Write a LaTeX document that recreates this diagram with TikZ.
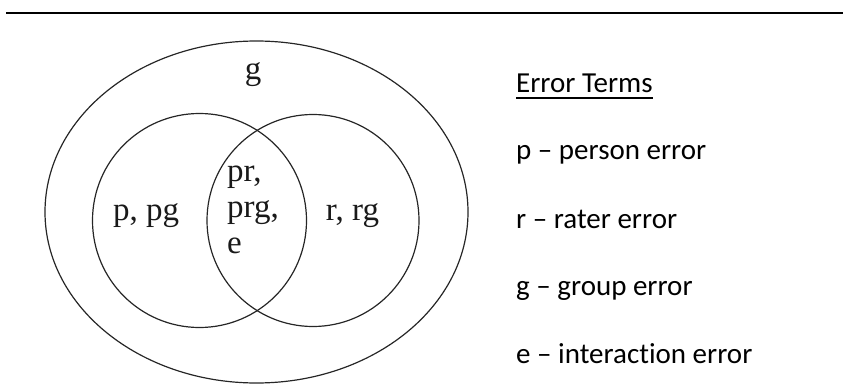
\documentclass[tikz,border=0pt]{standalone}
\usepackage{fontspec}
\setmainfont{Liberation Serif}
\newfontfamily\calib{Carlito}
\begin{document}
\begin{tikzpicture}[x=1pt,y=-1pt,
  venn/.style={line width=1.2pt, draw=black!85},
  vlabel/.style={font=\fontsize{33}{36}\selectfont, inner sep=0pt, text=black!90},
  legend/.style={font=\calib\fontsize{29}{34}\selectfont, inner sep=0pt, anchor=base west}]
\useasboundingbox (0,0) rectangle (843,385);
% top rule
\coordinate (ruleL) at (6,13);
\coordinate (ruleR) at (843,13);
\draw[line width=2.2pt] (ruleL) -- (ruleR);
% Venn shapes
\draw[venn] (256.5,212) ellipse [x radius=211.5, y radius=171];
\draw[venn] (199.5,220.5) circle [radius=107];
\draw[venn] (313,220.5) circle [radius=106];
% Venn labels
\node[vlabel, anchor=base] (g) at (253,80) {g};
\node[vlabel, anchor=base] (p) at (146,220) {p, pg};
\node[vlabel, anchor=base] (r) at (352.5,220) {r, rg};
\node[vlabel, anchor=base west] (m1) at (227,181) {pr,};
\node[vlabel, anchor=base west] (m2) at (227,217) {prg,};
\node[vlabel, anchor=base west] (m3) at (227,253) {e};
% Legend
\node[legend] (title) at (516,93) {Error Terms};
\draw[line width=2pt] ([yshift=-5pt]title.base west) -- ([yshift=-5pt]title.base east);
\node[legend] (lp) at (516,160) {p – person error};
\node[legend] (lr) at (516,228) {r – rater error};
\node[legend] (lg) at (516,295) {g – group error};
\node[legend] (le) at (516,363) {e – interact\kern0pt ion error};
\end{tikzpicture}
\end{document}
